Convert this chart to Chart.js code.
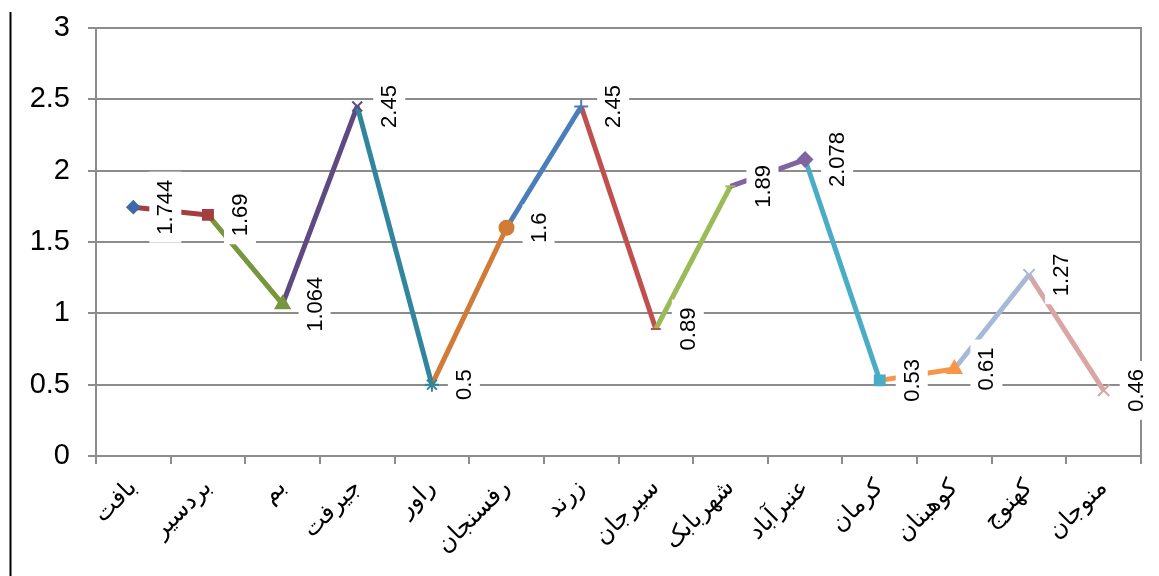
<!DOCTYPE html>
<html>
<head>
<meta charset="utf-8">
<script src="https://cdn.jsdelivr.net/npm/chart.js@4"></script>
<style>
  html, body { margin: 0; padding: 0; background: #fff; }
  #wrap { width: 1159px; height: 576px; position: relative; }
</style>
</head>
<body>
<div id="wrap"><canvas id="chart"></canvas></div>
<script>
// categories (Kerman province towns) and values
const towns = ["بافت", "بردسیر", "بم", "جیرفت", "راور", "رفسنجان", "زرند", "سیرجان", "شهربابک", "عنبرآباد", "کرمان", "کوهبنان", "کهنوج", "منوجان"];
const values = [1.744, 1.69, 1.064, 2.45, 0.5, 1.6, 2.45, 0.89, 1.89, 2.078, 0.53, 0.61, 1.27, 0.46];
const yTicks = [0, 0.5, 1, 1.5, 2, 2.5, 3];

// per point colour (segment ending at a point takes its colour) and marker
const pointColors = ["#3D6AA6", "#A33F3C", "#77963E", "#5E4A80", "#31859C", "#D27B36", "#4A7EBB",
                     "#C0504D", "#9BBB59", "#8064A2", "#4BACC6", "#F79646", "#A6B9D9", "#D9A6A5"];
const markers = ["rectRot", "rect", "triangle", "crossRot", "star", "circle", "cross",
                 "line", "line", "rectRot", "rect", "triangle", "crossRot", "crossRot"];
const markerSizes = [6, 7, 8, 7, 7, 7, 7, 5, 5, 7, 7, 8, 8, 8];

// thin black rule on the left and the plot's right border
const framePlugin = {
  id: "frame",
  beforeDraw(chart) {
    const c = chart.ctx;
    c.save();
    c.strokeStyle = "#000";
    c.lineWidth = 2;
    c.beginPath();
    c.moveTo(10.5, 12);
    c.lineTo(10.5, 576);
    c.stroke();
    c.restore();
  },
  beforeDatasetsDraw(chart) {
    const a = chart.chartArea;
    const c = chart.ctx;
    c.save();
    c.strokeStyle = "#8c8c8c";
    c.lineWidth = 2;
    c.beginPath();
    c.moveTo(a.right, a.top - 1);
    c.lineTo(a.right, a.bottom);
    c.stroke();
    c.restore();
  }
};

// vertical value labels on a white box to the right of each point
const labelPlugin = {
  id: "vlabels",
  afterDatasetsDraw(chart) {
    const c = chart.ctx;
    const pts = chart.getDatasetMeta(0).data;
    c.save();
    c.font = "22px 'Liberation Sans', Arial, sans-serif";
    c.textAlign = "center";
    c.textBaseline = "middle";
    pts.forEach((p, i) => {
      const txt = String(values[i]);
      const w = c.measureText(txt).width;
      c.save();
      c.translate(p.x + 32, p.y);
      c.rotate(-Math.PI / 2);
      c.fillStyle = "#fff";
      c.fillRect(-w / 2 - 8, -16, w + 16, 32);
      c.fillStyle = "#000";
      c.fillText(txt, 0, 1);
      c.restore();
    });
    c.restore();
  }
};

new Chart(document.getElementById("chart"), {
  type: "line",
  data: {
    labels: towns,
    datasets: [{
      data: values,
      borderWidth: 5,
      borderColor: pointColors[1],
      segment: {
        borderColor: ctx => pointColors[ctx.p1DataIndex]
      },
      pointStyle: markers,
      pointRadius: markerSizes,
      pointBackgroundColor: pointColors,
      pointBorderColor: pointColors,
      pointBorderWidth: 2,
      tension: 0,
      fill: false,
      clip: false
    }]
  },
  options: {
    responsive: true,
    maintainAspectRatio: false,
    animation: false,
    layout: { padding: { top: 28, right: 18, left: 0, bottom: 0 } },
    plugins: {
      legend: { display: false },
      tooltip: { enabled: false }
    },
    scales: {
      x: {
        offset: true,
        grid: {
          offset: true,
          drawOnChartArea: false,
          drawTicks: true,
          tickLength: 8,
          color: "#8c8c8c",
          lineWidth: 2
        },
        border: { color: "#8c8c8c", width: 2 },
        ticks: {
          maxRotation: 45,
          minRotation: 45,
          padding: 10,
          color: "#000",
          font: { size: 24, family: "'DejaVu Sans', 'Liberation Sans', sans-serif" }
        },
        afterFit: scale => { scale.height = 120; scale.paddingTop = 0; }
      },
      y: {
        min: 0,
        max: 3,
        afterBuildTicks: scale => { scale.ticks = yTicks.map(v => ({ value: v })); },
        grid: {
          color: "#8c8c8c",
          lineWidth: 2,
          drawTicks: true,
          tickLength: 8
        },
        border: { color: "#8c8c8c", width: 2 },
        ticks: {
          padding: 18,
          color: "#000",
          font: { size: 29, family: "'Liberation Sans', Arial, sans-serif" },
          callback: v => String(v)
        },
        afterFit: scale => { scale.width = 96; scale.paddingTop = 0; scale.paddingBottom = 0; }
      }
    }
  },
  plugins: [framePlugin, labelPlugin]
});
</script>
</body>
</html>
